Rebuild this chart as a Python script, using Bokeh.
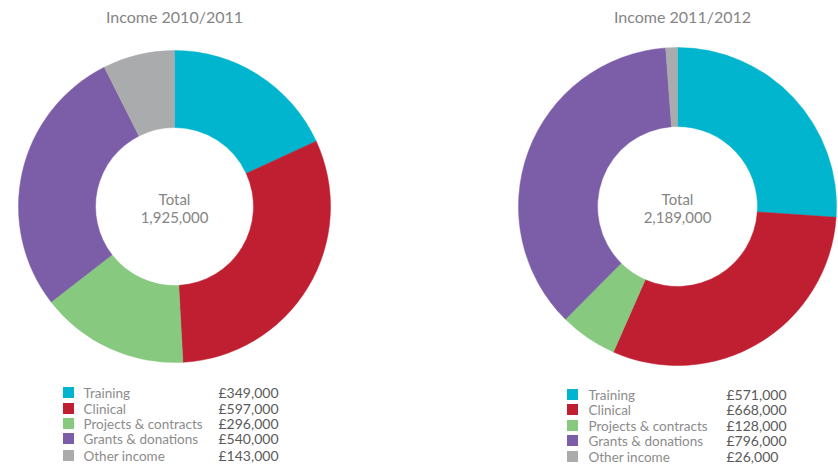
import numpy as np
from bokeh.plotting import figure
from bokeh.models import ColumnDataSource, Range1d
from bokeh.core.properties import value
from bokeh.embed import file_html
from bokeh.resources import INLINE

categories = ["Training", "Clinical", "Projects & contracts", "Grants & donations", "Other income"]
colors = ["#00B5CD", "#C01E31", "#87C97F", "#7B5DA8", "#AAABAD"]
income_2010 = [349000, 597000, 296000, 540000, 143000]
income_2011 = [571000, 668000, 128000, 796000, 26000]
titles = ["Income 2010/2011", "Income 2011/2012"]
totals = ["1,925,000", "2,189,000"]

FONT = "Lato"
W, H = 838, 464

p = figure(width=W, height=H, output_backend="svg", toolbar_location=None,
           x_range=Range1d(0, W), y_range=Range1d(0, H),
           x_axis_location=None, y_axis_location=None, min_border=0)
p.grid.visible = False
p.outline_line_color = None
p.background_fill_color = "white"
p.border_fill_color = "white"

def Y(py):
    return H - py

panels = [
    dict(vals=income_2010, cx=174, cy=206, ro=156, ri=79, title=titles[0], tx=174,
         total=totals[0], sq_x=68, lab_x=83, val_x=218, rows=[392, 408, 423, 438, 455]),
    dict(vals=income_2011, cx=677, cy=206, ro=159, ri=80, title=titles[1], tx=682,
         total=totals[1], sq_x=572, lab_x=588, val_x=726, rows=[394, 409, 425, 440, 456]),
]

for pn in panels:
    v = np.array(pn["vals"], dtype=float)
    frac = v / v.sum()
    cum = np.concatenate([[0], np.cumsum(frac)])
    start = np.pi / 2 - cum[:-1] * 2 * np.pi
    end = np.pi / 2 - cum[1:] * 2 * np.pi
    src = ColumnDataSource(dict(start=start, end=end, color=colors))
    p.annular_wedge(x=pn["cx"], y=Y(pn["cy"]), inner_radius=pn["ri"], outer_radius=pn["ro"],
                    start_angle="start", end_angle="end", direction="clock",
                    fill_color="color", line_color="color", line_width=0.5, source=src)
    # title
    p.text(x=[pn["tx"]], y=[Y(16)], text=[pn["title"]], text_font=value(FONT),
           text_font_size="16px", text_color="#858585", text_align="center",
           text_baseline="middle")
    # center
    p.text(x=[pn["cx"]], y=[Y(pn["cy"] - 8)], text=["Total"], text_font=value(FONT),
           text_font_size="15px", text_color="#858585", text_align="center",
           text_baseline="middle")
    p.text(x=[pn["cx"]], y=[Y(pn["cy"] + 11)], text=[pn["total"]], text_font=value(FONT),
           text_font_size="15px", text_color="#858585", text_align="center",
           text_baseline="middle")
    # legend
    ys = [Y(r) for r in pn["rows"]]
    vals_txt = ["\u00a3{:,}".format(x) for x in pn["vals"]]
    lsrc = ColumnDataSource(dict(y=ys, color=colors, lab=categories, val=vals_txt))
    p.rect(x=pn["sq_x"], y="y", width=11, height=11, fill_color="color", line_color=None,
           source=lsrc)
    p.text(x=pn["lab_x"], y="y", text="lab", text_font=value(FONT), text_font_size="13.5px",
           text_color="#8c8c8c", text_baseline="middle", source=lsrc)
    p.text(x=pn["val_x"], y="y", text="val", text_font=value(FONT), text_font_size="14px",
           text_color="#5a5a5a", text_baseline="middle", source=lsrc)

open("out.html", "w").write(file_html(p, INLINE))
